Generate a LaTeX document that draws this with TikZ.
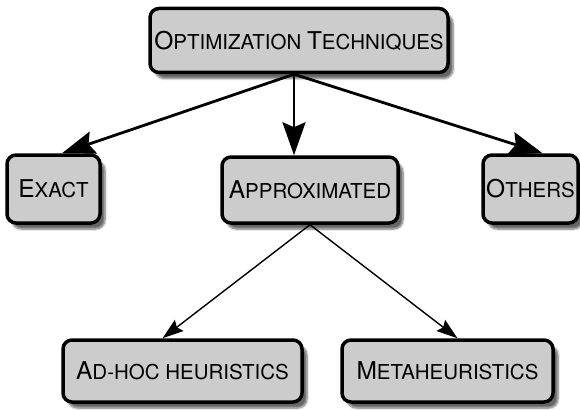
\documentclass[tikz,border=0pt]{standalone}
\usepackage{fontspec}
\setmainfont{TeX Gyre Heros}
\usetikzlibrary{arrows.meta,shadows.blur}
\definecolor{boxgray}{gray}{0.8}
\newcommand{\bigsc}[2]{{\fontsize{24.5}{25}\selectfont #1}{\fontsize{20.5}{21}\selectfont #2}}

\begin{document}
\begin{tikzpicture}[x=1pt,y=-1pt,
		box/.style={draw=black,line width=3.5pt,rounded corners=9pt,fill=boxgray,
			minimum height=64pt,inner sep=0pt,font=\fontsize{20.5}{21}\selectfont,
			blur shadow={shadow xshift=5pt,shadow yshift=-6pt,shadow blur steps=6,shadow opacity=60}},
		bigarrow/.style={line width=2.8pt,-{Stealth[length=33pt,width=23pt,inset=5pt]}},
		thinarrow/.style={line width=1.4pt,-{Stealth[length=21pt,width=14pt,inset=3pt]}}]
			\useasboundingbox (0,0) rectangle (580,409);
			\node[box,minimum width=298pt] (opt) at (299,40.5) {\bigsc{O}{PTIMIZATION} \bigsc{T}{ECHNIQUES}};
			\node[box,minimum width=93pt,minimum height=68pt] (exact) at (53.5,189) {\bigsc{E}{XACT}};
			\node[box,minimum width=176pt,minimum height=66pt] (approx) at (310,190) {\bigsc{A}{PPROXIMATED}};
			\node[box,minimum width=95pt,minimum height=68pt] (others) at (530.5,189) {\bigsc{O}{THERS}};
			\node[box,minimum width=239pt,minimum height=62pt] (adhoc) at (182.5,371) {\bigsc{A}{D-HOC HEURISTICS}};
			\node[box,minimum width=211pt,minimum height=62pt] (meta) at (447.5,371) {\bigsc{M}{ETAHEURISTICS}};
			\draw[bigarrow] ([xshift=-5pt]opt.south) -- ([xshift=8.5pt]exact.north);
			\draw[bigarrow] ([xshift=-5pt]opt.south) -- ([xshift=-16pt]approx.north);
			\draw[bigarrow] ([xshift=-5pt]opt.south) -- ([xshift=12pt]others.north);
			\draw[thinarrow] (approx.south) -- ([xshift=-20pt]adhoc.north);
			\draw[thinarrow] (approx.south) -- ([xshift=10pt]meta.north);
		\end{tikzpicture}
\end{document}
